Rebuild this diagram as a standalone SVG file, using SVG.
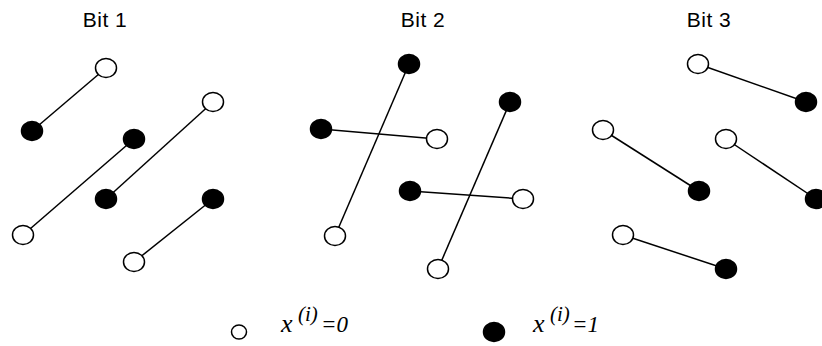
<svg xmlns="http://www.w3.org/2000/svg" width="822" height="346" viewBox="0 0 822 346">
<style>
.t{font-family:"Liberation Sans",Arial,sans-serif;font-size:21px;fill:#000;letter-spacing:0.5px}
.m{font-family:"Liberation Serif","Times New Roman",serif;font-style:italic;fill:#000}
.o{fill:#fff;stroke:#000;stroke-width:1.5}
.f{fill:#000;stroke:#000;stroke-width:1.5}
.c line{stroke:#000;stroke-width:1.5}
</style>
<rect width="822" height="346" fill="#fff"/>
<text class="t" x="105" y="27" text-anchor="middle">Bit 1</text>
<text class="t" x="423" y="27" text-anchor="middle">Bit 2</text>
<text class="t" x="709" y="27" text-anchor="middle">Bit 3</text>
<g id="connectors" class="c">
<line x1="106" y1="68" x2="32" y2="131"/>
<line x1="134" y1="139" x2="23" y2="235"/>
<line x1="213" y1="102" x2="106" y2="199"/>
<line x1="213" y1="199" x2="134" y2="262"/>
<line x1="409" y1="64" x2="335" y2="236"/>
<line x1="321" y1="129" x2="437" y2="139"/>
<line x1="510" y1="102" x2="438" y2="269"/>
<line x1="410" y1="191" x2="523" y2="199"/>
<line x1="698" y1="64" x2="806" y2="102"/>
<line x1="603" y1="130" x2="699" y2="191"/>
<line x1="726" y1="139" x2="816" y2="199"/>
<line x1="623" y1="235" x2="726" y2="269"/>
</g>
<g id="b1n1"><ellipse class="o" cx="106" cy="68" rx="10.5" ry="9.5"/></g>
<g id="b1n2"><ellipse class="f" cx="32" cy="131" rx="10.5" ry="9.5"/></g>
<g id="b1n3"><ellipse class="f" cx="134" cy="139" rx="10.5" ry="9.5"/></g>
<g id="b1n4"><ellipse class="o" cx="23" cy="235" rx="10.5" ry="9.5"/></g>
<g id="b1n5"><ellipse class="o" cx="213" cy="102" rx="10.5" ry="9.5"/></g>
<g id="b1n6"><ellipse class="f" cx="106" cy="199" rx="10.5" ry="9.5"/></g>
<g id="b1n7"><ellipse class="f" cx="213" cy="199" rx="10.5" ry="9.5"/></g>
<g id="b1n8"><ellipse class="o" cx="134" cy="262" rx="10.5" ry="9.5"/></g>
<g id="b2n1"><ellipse class="f" cx="409" cy="64" rx="10.5" ry="9.5"/></g>
<g id="b2n2"><ellipse class="o" cx="335" cy="236" rx="10.5" ry="9.5"/></g>
<g id="b2n3"><ellipse class="f" cx="321" cy="129" rx="10.5" ry="9.5"/></g>
<g id="b2n4"><ellipse class="o" cx="437" cy="139" rx="10.5" ry="9.5"/></g>
<g id="b2n5"><ellipse class="f" cx="510" cy="102" rx="10.5" ry="9.5"/></g>
<g id="b2n6"><ellipse class="o" cx="438" cy="269" rx="10.5" ry="9.5"/></g>
<g id="b2n7"><ellipse class="f" cx="410" cy="191" rx="10.5" ry="9.5"/></g>
<g id="b2n8"><ellipse class="o" cx="523" cy="199" rx="10.5" ry="9.5"/></g>
<g id="b3n1"><ellipse class="o" cx="698" cy="64" rx="10.5" ry="9.5"/></g>
<g id="b3n2"><ellipse class="f" cx="806" cy="102" rx="10.5" ry="9.5"/></g>
<g id="b3n3"><ellipse class="o" cx="603" cy="130" rx="10.5" ry="9.5"/></g>
<g id="b3n4"><ellipse class="f" cx="699" cy="191" rx="10.5" ry="9.5"/></g>
<g id="b3n5"><ellipse class="o" cx="726" cy="139" rx="10.5" ry="9.5"/></g>
<g id="b3n6"><ellipse class="f" cx="816" cy="199" rx="10.5" ry="9.5"/></g>
<g id="b3n7"><ellipse class="o" cx="623" cy="235" rx="10.5" ry="9.5"/></g>
<g id="b3n8"><ellipse class="f" cx="726" cy="269" rx="10.5" ry="9.5"/></g>
<g id="legend">
<ellipse class="o" cx="239" cy="332" rx="7.5" ry="7" stroke-width="2"/>
<text class="m"><tspan x="281" y="332" font-size="26">x</tspan><tspan x="298" y="321" font-size="21">(i)</tspan><tspan x="321" y="332" font-size="23">=0</tspan></text>
<ellipse class="f" cx="494" cy="332" rx="10.5" ry="9.5"/>
<text class="m"><tspan x="533" y="332" font-size="26">x</tspan><tspan x="550" y="321" font-size="21">(i)</tspan><tspan x="572" y="332" font-size="23">=1</tspan></text>
</g>
</svg>
